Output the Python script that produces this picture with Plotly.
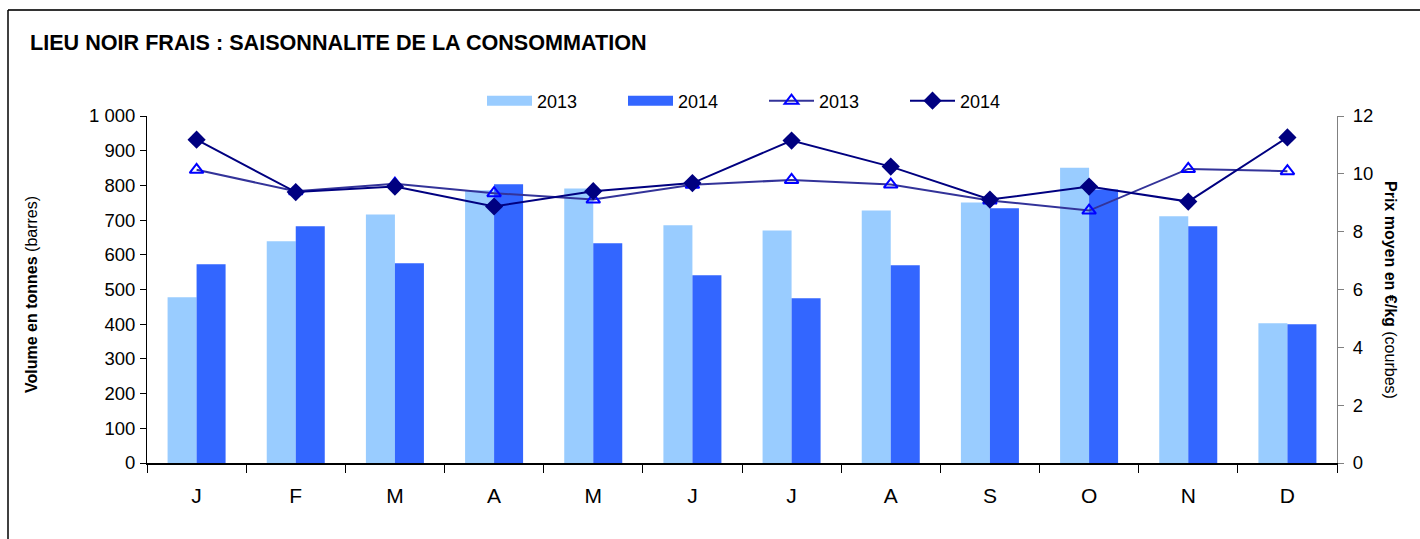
import plotly.graph_objects as go

# Monthly data
months = ["J", "F", "M", "A", "M", "J", "J", "A", "S", "O", "N", "D"]
month_keys = [f"m{i}" for i in range(12)]

volume_2013 = [478, 639, 716, 786, 791, 685, 670, 728, 751, 851, 711, 403]
volume_2014 = [573, 682, 576, 803, 633, 541, 475, 570, 734, 788, 682, 400]

price_2013 = [10.14, 9.40, 9.66, 9.33, 9.11, 9.62, 9.79, 9.63, 9.08, 8.73, 10.17, 10.09]
price_2014 = [11.18, 9.37, 9.56, 8.87, 9.40, 9.68, 11.15, 10.25, 9.11, 9.56, 9.04, 11.26]

left_ticks = [0, 100, 200, 300, 400, 500, 600, 700, 800, 900, 1000]
right_ticks = [0, 2, 4, 6, 8, 10, 12]

FONT = "Liberation Sans, Arial, sans-serif"
C13, C14 = "#99CCFF", "#3366FF"

W, H = 1420, 539
L, R, T, B = 147, 83, 116, 76
pw, ph = W - L - R, H - T - B


def px_x(x):
    return (x - L) / pw


def px_y(y):
    return (H - B - y) / ph


fig = go.Figure()

# Bars (legend shown through wide swatch entries below)
fig.add_trace(go.Bar(x=month_keys, y=volume_2013, name="2013", showlegend=False,
                     marker=dict(color=C13, line=dict(width=0))))
fig.add_trace(go.Bar(x=month_keys, y=volume_2014, name="2014", showlegend=False,
                     marker=dict(color=C14, line=dict(width=0))))

# Wide rectangular legend swatches for the bar series
fig.add_trace(go.Scatter(x=[None], y=[None], name="2013", mode="lines",
                         line=dict(color=C13, width=12)))
fig.add_trace(go.Scatter(x=[None], y=[None], name="2014", mode="lines",
                         line=dict(color=C14, width=12)))

fig.add_trace(go.Scatter(x=month_keys, y=price_2013, name="2013", yaxis="y2",
                         mode="lines+markers",
                         line=dict(color="#333399", width=2),
                         marker=dict(symbol="triangle-up-open", size=12,
                                     color="#0000FF", line=dict(color="#0000FF", width=2))))
fig.add_trace(go.Scatter(x=month_keys, y=price_2014, name="2014", yaxis="y2",
                         mode="lines+markers",
                         line=dict(color="#000080", width=2),
                         marker=dict(symbol="diamond", size=14, color="#000080")))

fig.update_layout(
    width=W, height=H,
    margin=dict(l=L, r=R, t=T, b=B),
    paper_bgcolor="white", plot_bgcolor="white",
    font=dict(family=FONT, color="black"),
    separators=", ",
    barmode="group", bargap=0.415, bargroupgap=0,
    showlegend=True,
    legend=dict(orientation="h", x=px_x(482), xanchor="left", y=px_y(101), yanchor="middle",
                font=dict(size=18), itemwidth=45, entrywidth=81,
                bgcolor="rgba(0,0,0,0)", traceorder="normal"),
    xaxis=dict(
        tickmode="array", tickvals=month_keys, ticktext=months,
        tickson="boundaries", ticks="outside", ticklen=8, tickcolor="black",
        ticklabelstandoff=13,
        showline=True, linecolor="black", linewidth=1.5,
        showgrid=False, zeroline=False,
        tickfont=dict(size=21), range=[-0.5, 11.5],
    ),
    yaxis=dict(
        range=[0, 1000], tickvals=left_ticks, separatethousands=True,
        ticks="outside", ticklen=6, tickcolor="black",
        showline=True, linecolor="black", linewidth=1,
        showgrid=False, zeroline=False,
        tickfont=dict(size=18.5), ticklabelstandoff=1,
    ),
    yaxis2=dict(
        range=[0, 12], tickvals=right_ticks, overlaying="y", side="right",
        ticks="outside", ticklen=6, tickcolor="#808080",
        showline=True, linecolor="#808080", linewidth=1,
        showgrid=False, zeroline=False,
        tickfont=dict(size=18.5), ticklabelstandoff=5,
    ),
    annotations=[
        dict(text="<b>LIEU NOIR FRAIS : SAISONNALITE DE LA CONSOMMATION</b>",
             xref="paper", yref="paper", x=px_x(28), y=px_y(42),
             xanchor="left", yanchor="middle", showarrow=False,
             font=dict(size=21.6)),
        dict(text="<b>Volume en tonnes</b> (barres)",
             xref="paper", yref="paper", x=px_x(31), y=px_y(295),
             xanchor="center", yanchor="middle", textangle=-90, showarrow=False,
             font=dict(size=16)),
        dict(text="<b>Prix moyen en €/kg</b> (courbes)",
             xref="paper", yref="paper", x=px_x(1391), y=px_y(290),
             xanchor="center", yanchor="middle", textangle=90, showarrow=False,
             font=dict(size=16)),
    ],
    shapes=[
        dict(type="line", xref="paper", yref="paper",
             x0=px_x(8), x1=px_x(W + 2), y0=px_y(10), y1=px_y(10),
             line=dict(color="#333333", width=2)),
        dict(type="line", xref="paper", yref="paper",
             x0=px_x(8), x1=px_x(8), y0=px_y(10), y1=px_y(H + 2),
             line=dict(color="black", width=1.5)),
    ],
)

fig.write_html("out.html")
